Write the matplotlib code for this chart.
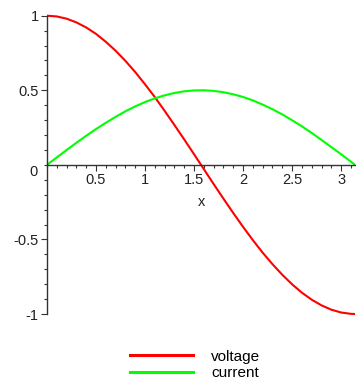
import numpy as np
import matplotlib
matplotlib.use('Agg')
import matplotlib.pyplot as plt
from matplotlib.ticker import MultipleLocator, FuncFormatter
from matplotlib.lines import Line2D

plt.rcParams['font.family'] = ['Liberation Sans', 'DejaVu Sans']

# values
x = [0.0, 0.1, 0.2, 0.3, 0.4, 0.5, 0.6, 0.7, 0.8, 0.9, 1.0, 1.1, 1.2, 1.3, 1.4, 1.5,
     1.6, 1.7, 1.8, 1.9, 2.0, 2.1, 2.2, 2.3, 2.4, 2.5, 2.6, 2.7, 2.8, 2.9, 3.0, 3.1, 3.1416]
voltage = [1.000, 0.995, 0.980, 0.955, 0.921, 0.878, 0.825, 0.765, 0.697, 0.622, 0.540,
           0.454, 0.362, 0.267, 0.170, 0.071, -0.029, -0.129, -0.227, -0.323, -0.416,
           -0.505, -0.589, -0.666, -0.737, -0.801, -0.857, -0.904, -0.942, -0.971, -0.990,
           -0.999, -1.000]
current = [0.000, 0.050, 0.099, 0.148, 0.195, 0.240, 0.282, 0.322, 0.359, 0.392, 0.421,
           0.446, 0.466, 0.482, 0.493, 0.499, 0.500, 0.496, 0.487, 0.473, 0.455, 0.432,
           0.404, 0.373, 0.338, 0.299, 0.258, 0.214, 0.167, 0.119, 0.071, 0.021, 0.000]
series_names = ['voltage', 'current']
series_colors = ['#ff0000', '#00ff00']
xticks = [0.5, 1, 1.5, 2, 2.5, 3]
yticks = [-1, -0.5, 0.5, 1]

W, H = 356, 383
fig = plt.figure(figsize=(W/100, H/100), dpi=100)
ax = fig.add_axes([47/W, 1-314/H, 308/W, 298.3/H])

for yv, c in zip([voltage, current], series_colors):
    ax.plot(x, yv, c=c, lw=1.5, clip_on=False, solid_capstyle='butt')

ax.set_xlim(0, np.pi)
ax.set_ylim(-1, 1)

for s in ['top', 'right']:
    ax.spines[s].set_visible(False)
ax.spines['left'].set_position(('data', 0))
ax.spines['bottom'].set_position(('data', 0))
for s in ['left', 'bottom']:
    ax.spines[s].set_linewidth(1.0)
    ax.spines[s].set_color('#333333')

ax.set_xticks(xticks)
ax.set_yticks(yticks)
ax.xaxis.set_minor_locator(MultipleLocator(0.1))
ax.yaxis.set_minor_locator(MultipleLocator(0.1))
fmt = FuncFormatter(lambda v, p: '%g' % v)
ax.xaxis.set_major_formatter(fmt)
ax.yaxis.set_major_formatter(fmt)
ax.tick_params(which='both', direction='out', width=0.8, color='#333333',
               labelsize=10.5, labelcolor='#222222', pad=2)
ax.tick_params(which='major', length=4)
ax.tick_params(which='minor', length=2)

# the zero label sits a little below the x axis, as in the original
ax.annotate('0', xy=(0, 0), xytext=(-7, -5), textcoords='offset points',
            ha='right', va='center', fontsize=10.5, color='#222222')
ax.text(1.58, -0.25, 'x', ha='center', va='center', fontsize=10.5, color='#222222')

handles = [Line2D([], [], c=c, lw=2.2) for c in series_colors]
fig.legend(handles, series_names, loc='center', bbox_to_anchor=(195/W, 1-365/H),
           frameon=False, fontsize=11, handlelength=4.1, handletextpad=1.2,
           labelspacing=0.18, borderpad=0)

plt.savefig('out.png', dpi=100)
plt.close()
